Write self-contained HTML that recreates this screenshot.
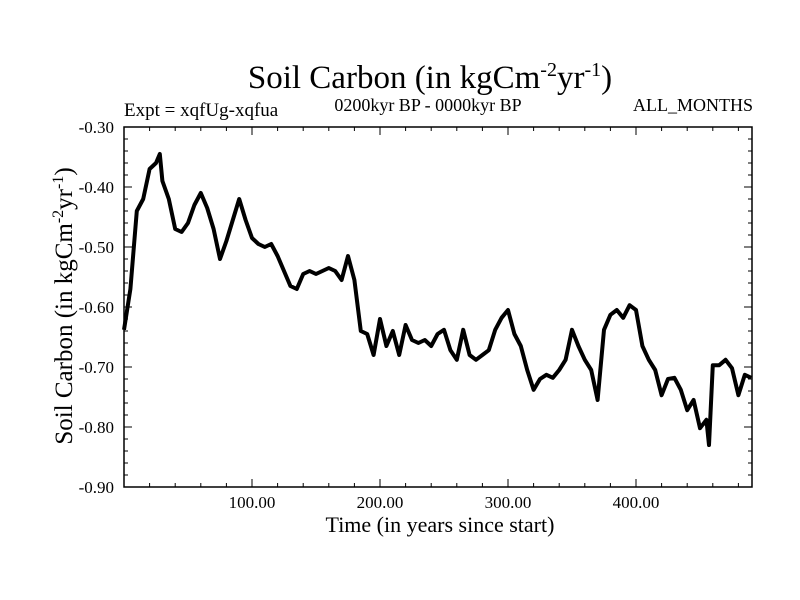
<!DOCTYPE html>
<html><head><meta charset="utf-8"><style>
body{margin:0;background:#fff;}
svg{display:block;font-family:"Liberation Serif",serif;}
</style></head><body>
<svg id="chart" width="800" height="600">
<text x="430" y="88" font-size="33" text-anchor="middle">Soil Carbon (in kgCm<tspan dy="-12" font-size="20">-2</tspan><tspan dy="12">yr</tspan><tspan dy="-12" font-size="20">-1</tspan><tspan dy="12">)</tspan></text>
<text x="124" y="116" font-size="19">Expt = xqfUg-xqfua</text>
<text x="428" y="111" font-size="18" text-anchor="middle">0200kyr BP - 0000kyr BP</text>
<text x="753" y="111" font-size="18" text-anchor="end">ALL_MONTHS</text>
<text x="440" y="532" font-size="22" text-anchor="middle">Time (in years since start)</text>
<text transform="translate(72,306) rotate(-90)" font-size="25" text-anchor="middle">Soil Carbon (in kgCm<tspan dy="-9" font-size="16">-2</tspan><tspan dy="9">yr</tspan><tspan dy="-9" font-size="16">-1</tspan><tspan dy="9">)</tspan></text>
<g id="axes"></g>
<path id="series" fill="none" stroke="#000" stroke-width="4" stroke-linejoin="round"></path>
<rect x="124" y="127" width="628" height="360" fill="none" stroke="#000" stroke-width="1.5"></rect>
</svg>
<script>
const years = [0,5,10,15,20,25,28,30,35,40,45,50,55,60,65,70,75,80,85,90,95,100,105,110,115,120,125,130,135,140,145,150,155,160,165,170,175,180,185,190,195,200,205,210,215,220,225,230,235,240,245,250,255,260,265,270,275,280,285,290,295,300,305,310,315,320,325,330,335,340,345,350,355,360,365,370,375,380,385,390,395,400,405,410,415,420,425,430,435,440,445,450,455,457,460,465,470,475,480,485,490];
const soilCarbon = [-0.638,-0.57,-0.44,-0.42,-0.37,-0.36,-0.345,-0.39,-0.42,-0.47,-0.475,-0.46,-0.43,-0.41,-0.435,-0.47,-0.52,-0.49,-0.455,-0.42,-0.455,-0.485,-0.495,-0.50,-0.495,-0.515,-0.54,-0.565,-0.57,-0.545,-0.54,-0.545,-0.54,-0.535,-0.54,-0.555,-0.515,-0.555,-0.64,-0.645,-0.68,-0.62,-0.665,-0.64,-0.68,-0.63,-0.655,-0.66,-0.655,-0.665,-0.645,-0.638,-0.672,-0.688,-0.638,-0.68,-0.688,-0.68,-0.672,-0.638,-0.618,-0.605,-0.645,-0.665,-0.705,-0.738,-0.72,-0.713,-0.718,-0.705,-0.688,-0.638,-0.665,-0.688,-0.705,-0.755,-0.638,-0.613,-0.605,-0.618,-0.597,-0.605,-0.665,-0.688,-0.705,-0.747,-0.72,-0.718,-0.738,-0.772,-0.755,-0.802,-0.788,-0.83,-0.697,-0.697,-0.688,-0.702,-0.747,-0.713,-0.718];
const yTicks = [-0.30,-0.40,-0.50,-0.60,-0.70,-0.80,-0.90];
const xTicks = [100,200,300,400];
const X0=124,X1=752,Y0=127,Y1=487;
function sx(t){return X0+t*1.28;}
function sy(v){return Y0+(-0.30-v)/0.60*(Y1-Y0);}
const NS="http://www.w3.org/2000/svg";
const axes=document.getElementById('axes');
function line(x1,y1,x2,y2,name){const l=document.createElementNS(NS,'line');l.setAttribute('x1',x1);l.setAttribute('y1',y1);l.setAttribute('x2',x2);l.setAttribute('y2',y2);l.setAttribute('stroke','#000');l.setAttribute('stroke-width','1');


axes.appendChild(l);}
function text(x,y,s,anchor,name){const t=document.createElementNS(NS,'text');t.setAttribute('x',x);t.setAttribute('y',y);t.setAttribute('font-size','17');t.setAttribute('text-anchor',anchor);t.textContent=s;


axes.appendChild(t);}
for(let v=-0.30;v>=-0.9001;v-=0.02){const y=sy(v);const major=Math.abs(Math.round(v*10)-v*10)<1e-6;const L=major?8:4;line(X0,y,X0+L,y,'y-tick');line(X1-L,y,X1,y,'y-tick');}
yTicks.forEach(v=>text(114,sy(v)+6,v.toFixed(2),'end','y-tick-label'));
for(let t=20;t<490;t+=20){const x=sx(t);const major=t%100===0;const L=major?8:4;line(x,Y1,x,Y1-L,'x-tick');line(x,Y0,x,Y0+L,'x-tick');}
xTicks.forEach(t=>text(sx(t),508,t.toFixed(2),'middle','x-tick-label'));
let d='';years.forEach((t,i)=>{d+=(i?'L':'M')+sx(t).toFixed(1)+','+sy(soilCarbon[i]).toFixed(1);});
document.getElementById('series').setAttribute('d',d);
</script>
</body></html>
